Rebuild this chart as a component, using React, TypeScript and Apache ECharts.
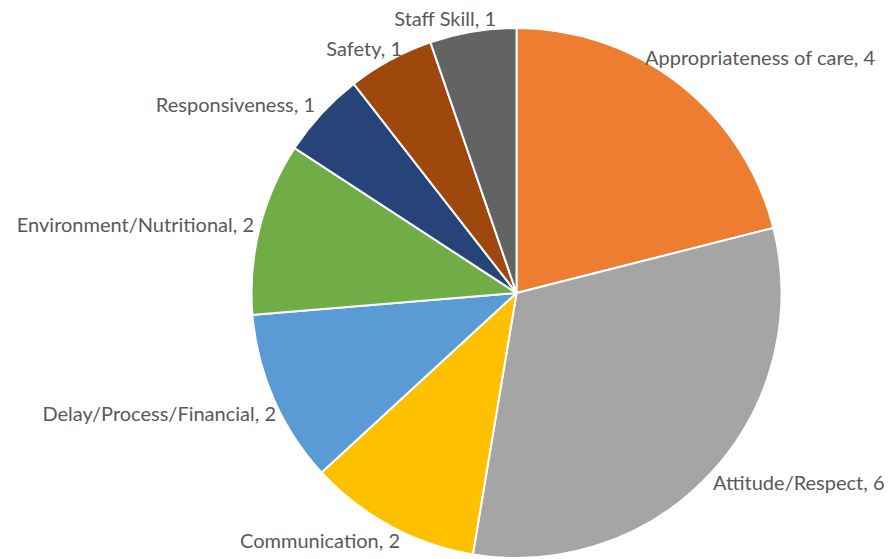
import React, { useEffect, useRef } from "react";
import * as echarts from "echarts";

const categories = [
  "Appropriateness of care",
  "Attitude/Respect",
  "Communication",
  "Delay/Process/Financial",
  "Environment/Nutritional",
  "Responsiveness",
  "Safety",
  "Staff Skill",
];
const values = [4, 6, 2, 2, 2, 1, 1, 1];
const colors = ["#ED7D31", "#A5A5A5", "#FFC000", "#5B9BD5", "#70AD47", "#264478", "#9E480E", "#636363"];

// label anchor layout (Excel best-fit placement), x, y, alignment
const labelAnchors: [number, number, string][] = [
  [645, 57, "left"],
  [713, 482, "left"],
  [400, 540, "right"],
  [276, 413, "right"],
  [254, 224, "right"],
  [315, 104, "right"],
  [402, 48, "right"],
  [496, 18, "right"],
];

export default function App() {
  const ref = useRef<HTMLDivElement>(null);
  useEffect(() => {
    document.body.style.margin = "0";
    const chart = echarts.init(ref.current!, null, { renderer: "svg" });
    chart.setOption({
      animation: false,
      backgroundColor: "#ffffff",
      series: [
        {
          type: "pie",
          center: [516.5, 293],
          radius: 265,
          startAngle: 90,
          clockwise: true,
          avoidLabelOverlap: false,
          itemStyle: { borderColor: "#ffffff", borderWidth: 2 },
          label: {
            show: true,
            position: "outside",
            formatter: "{b}, {c}",
            color: "#595959",
            fontSize: 20,
            fontFamily: "Lato, 'Open Sans', sans-serif",
          },
          labelLine: { show: false },
          labelLayout: (params: any) => {
            const a = labelAnchors[params.dataIndex];
            return { x: a[0], y: a[1], align: a[2], verticalAlign: "middle" };
          },
          emphasis: { disabled: true },
          data: categories.map((c, i) => ({ name: c, value: values[i], itemStyle: { color: colors[i] } })),
        },
      ],
    });
    return () => chart.dispose();
  }, []);
  return <div ref={ref} style={{ width: 889, height: 559 }} />;
}
